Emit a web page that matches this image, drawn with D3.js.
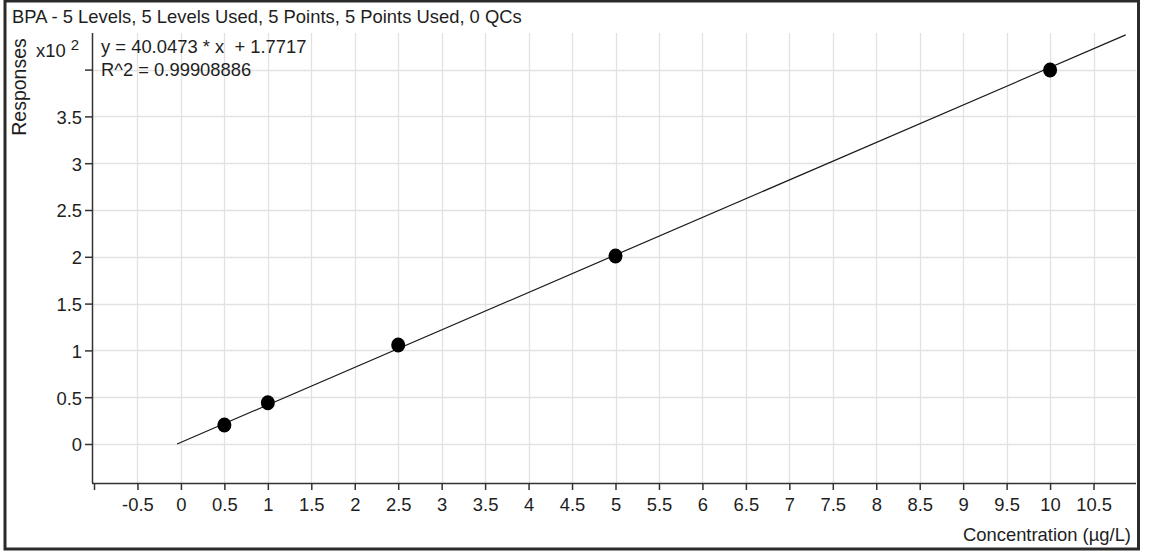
<!DOCTYPE html>
<html><head><meta charset="utf-8">
<script src="https://cdn.jsdelivr.net/npm/d3@7"></script>
<style>
body{margin:0;background:#fff}
svg text{font-family:"Liberation Sans",Arial,sans-serif;fill:#1e1e1e;white-space:pre}
</style>
</head><body>
<svg id="c" width="1150" height="555"></svg>
<script>
// ---- data ----
const titleText = "BPA - 5 Levels, 5 Levels Used, 5 Points, 5 Points Used, 0 QCs";
const concentrations = [0.5, 1, 2.5, 5, 10];          // µg/L
const responses = [20.3, 44.1, 105.8, 200.9, 399.6];    // raw responses
const fitSlope = 40.0473;
const fitIntercept = 1.7717;
const fitXRange = [-0.044, 10.87];
const equationLines = ["y = 40.0473 * x  + 1.7717", "R^2 = 0.99908886"];
const xTickValues = [-1, -0.5, 0, 0.5, 1, 1.5, 2, 2.5, 3, 3.5, 4, 4.5, 5, 5.5, 6, 6.5, 7, 7.5, 8, 8.5, 9, 9.5, 10, 10.5];
const xTickLabels = ["", "-0.5", "0", "0.5", "1", "1.5", "2", "2.5", "3", "3.5", "4", "4.5", "5", "5.5", "6", "6.5", "7", "7.5", "8", "8.5", "9", "9.5", "10", "10.5"];
const yTickValues = [0, 0.5, 1, 1.5, 2, 2.5, 3, 3.5, 4];
const yTickLabels = ["0", "0.5", "1", "1.5", "2", "2.5", "3", "3.5", ""];
const yScaleFactor = 100; // x10^2
const xAxisTitle = "Concentration (µg/L)";
const yAxisTitle = "Responses";

// ---- layout ----
const FS = 18.4;
const svg = d3.select("#c");
const plotLeft = 92, plotRight = 1136, plotTop = 33, plotBottom = 483;

const x = d3.scaleLinear().domain([-1, 11]).range([94, 1137]);
const y = d3.scaleLinear().domain([-0.4167, 4.391]).range([plotBottom, plotTop]);

// outer frame
svg.append("rect").attr("x", 5).attr("y", 1).attr("width", 1133.5).attr("height", 548)
  .attr("fill", "none").attr("stroke", "#2b2b2b").attr("stroke-width", 3);

// title
svg.append("text").attr("x", 12).attr("y", 23).attr("font-size", FS).text(titleText);

// gridlines
svg.append("g").selectAll("line").data(xTickValues.filter(v => v > -1)).join("line")
  .attr("x1", d => Math.round(x(d)) + 0.5).attr("x2", d => Math.round(x(d)) + 0.5)
  .attr("y1", plotTop).attr("y2", plotBottom)
  .attr("stroke", "#e2e2e2").attr("stroke-width", 1.3);
svg.append("g").selectAll("line").data(yTickValues).join("line")
  .attr("x1", plotLeft).attr("x2", plotRight)
  .attr("y1", d => Math.round(y(d)) + 0.5).attr("y2", d => Math.round(y(d)) + 0.5)
  .attr("stroke", "#e2e2e2").attr("stroke-width", 1.3);

// x axis
const xAxis = d3.axisBottom(x).tickValues(xTickValues)
  .tickFormat((d, i) => xTickLabels[i]).tickSize(7).tickPadding(5).tickSizeOuter(0);
const gx = svg.append("g").attr("transform", `translate(0,${plotBottom})`).call(xAxis);
gx.select(".domain").attr("d", `M${plotLeft},0.5H${plotRight}`).attr("stroke", "#333").attr("stroke-width", 1.5);
gx.selectAll(".tick line").attr("stroke", "#333").attr("stroke-width", 1.5);
gx.selectAll(".tick text").attr("font-size", FS).attr("font-family", null).attr("fill", "#1e1e1e").attr("dy", null).attr("y", 28);

// y axis
const yAxis = d3.axisLeft(y).tickValues(yTickValues)
  .tickFormat((d, i) => yTickLabels[i]).tickSize(7).tickPadding(4).tickSizeOuter(0);
const gy = svg.append("g").attr("transform", `translate(${plotLeft},0)`).call(yAxis);
gy.select(".domain").attr("d", `M0.5,${plotTop}V${plotBottom}`).attr("stroke", "#333").attr("stroke-width", 1.5);
gy.selectAll(".tick line").attr("stroke", "#333").attr("stroke-width", 1.5);
gy.selectAll(".tick text").attr("font-size", FS).attr("font-family", null).attr("fill", "#1e1e1e").attr("dy", "0.38em").attr("x", -10);

// axis titles
svg.append("text").attr("x", 1131).attr("y", 541).attr("text-anchor", "end").attr("font-size", FS).text(xAxisTitle);
svg.append("text").attr("transform", "translate(26,87) rotate(-90)").attr("text-anchor", "middle").attr("font-size", 19.5).text(yAxisTitle);
const mult = svg.append("text").attr("x", 36).attr("y", 57).attr("font-size", FS);
mult.append("tspan").text("x10 ");
mult.append("tspan").attr("font-size", 15).attr("dy", -7).text("2");

// equation
svg.append("g").selectAll("text").data(equationLines).join("text")
  .attr("x", 101).attr("y", (d, i) => 53 + i * 23).attr("font-size", FS).text(d => d);

// fit line
const fitPts = fitXRange.map(v => [v, (fitSlope * v + fitIntercept) / yScaleFactor]);
svg.append("path").datum(fitPts)
  .attr("d", d3.line().x(d => x(d[0])).y(d => y(d[1])))
  .attr("fill", "none").attr("stroke", "#1a1a1a").attr("stroke-width", 1.2);

// points
svg.append("g").selectAll("ellipse").data(concentrations).join("ellipse")
  .attr("cx", d => x(d)).attr("cy", (d, i) => y(responses[i] / yScaleFactor))
  .attr("rx", 7).attr("ry", 7.5).attr("fill", "#000");
</script>
</body></html>
